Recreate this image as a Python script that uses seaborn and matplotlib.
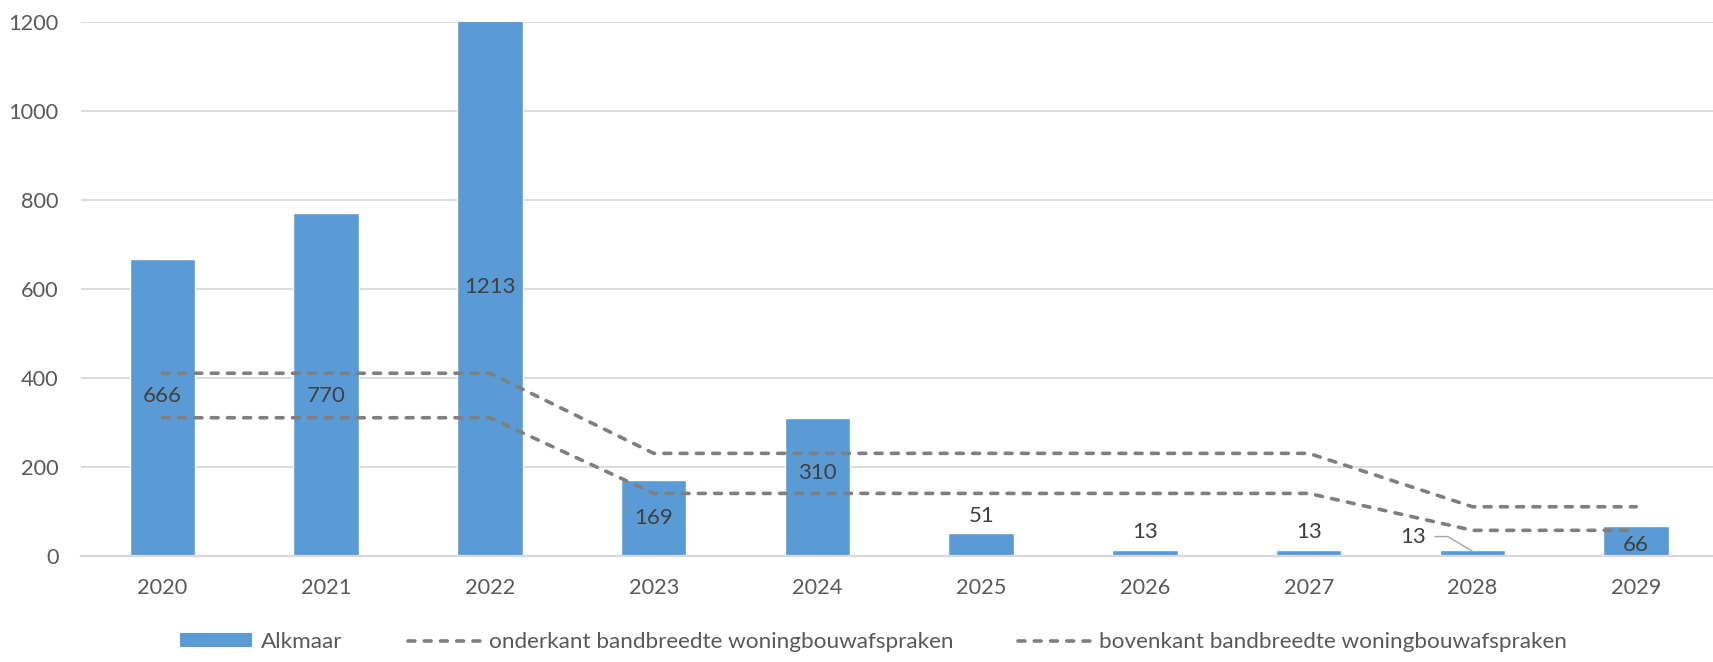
import numpy as np
import pandas as pd
import seaborn as sns
import matplotlib.pyplot as plt
from matplotlib.patches import Patch
from matplotlib.lines import Line2D

# data
years = ["2020", "2021", "2022", "2023", "2024", "2025", "2026", "2027", "2028", "2029"]
alkmaar = [666, 770, 1213, 169, 310, 51, 13, 13, 13, 66]
onderkant = [310, 310, 310, 140, 140, 140, 140, 140, 57, 57]
bovenkant = [410, 410, 410, 230, 230, 230, 230, 230, 110, 110]

# where the data labels sit (value units), as placed in the original
label_y = [360, 360, 603, 84, 185, 89, 54, 54, 43, 24]
label_dx = [0, 0, 0, 0, 0, 0, 0, 0, -0.36, 0]

BAR = "#5B9BD5"
LINE = "#7F7F7F"
GRID = "#D9D9D9"
TXT = "#595959"
LBL = "#404040"

sns.set_theme(style="white")
plt.rcParams["font.family"] = ["Lato", "DejaVu Sans"]

df = pd.DataFrame({"jaar": years, "Alkmaar": alkmaar})
lines = pd.DataFrame({
    "jaar": years * 2,
    "waarde": onderkant + bovenkant,
    "reeks": ["onderkant"] * len(years) + ["bovenkant"] * len(years),
})

fig = plt.figure(figsize=(17.13, 6.62), dpi=100)
ax = fig.add_axes([80.6 / 1713, 1 - 555.7 / 662, 1637.5 / 1713, 534 / 662])

sns.barplot(data=df, x="jaar", y="Alkmaar", color=BAR, width=0.4,
            saturation=1, ax=ax, zorder=2)

dash = (0, (1.9, 2.6))
for name in ["onderkant", "bovenkant"]:
    sub = lines[lines["reeks"] == name]
    ax.plot(np.arange(len(years)), sub["waarde"].values, color=LINE, lw=2.6,
            linestyle=dash, dash_capstyle="round", solid_joinstyle="round",
            zorder=3)

for i, v in enumerate(alkmaar):
    ax.text(i + label_dx[i], label_y[i], str(v), ha="center", va="center",
            fontsize=16, color=LBL, zorder=4)

# leader line for the 2028 label
ax.plot([7.77, 7.85, 8.0], [43, 43, 10], color="#A6A6A6", lw=1, zorder=4)

ax.set_xlim(-0.5, len(years) - 0.5)
ax.set_ylim(0, 1200)
ax.set_yticks(range(0, 1201, 200))
ax.yaxis.grid(True, color=GRID, lw=1.3, zorder=0)
ax.set_axisbelow(True)
for s in ["top", "right", "left"]:
    ax.spines[s].set_visible(False)
ax.spines["bottom"].set_color(GRID)
ax.spines["bottom"].set_linewidth(1.6)
ax.set_xlabel("")
ax.set_ylabel("")
ax.tick_params(axis="y", length=0, pad=16, labelsize=15.7, labelcolor=TXT)
ax.tick_params(axis="x", length=0, pad=16, labelsize=15.7, labelcolor=TXT)

handles = [
    Patch(facecolor=BAR, edgecolor="none"),
    Line2D([], [], color=LINE, lw=2.6, linestyle=dash, dash_capstyle="round"),
    Line2D([], [], color=LINE, lw=2.6, linestyle=dash, dash_capstyle="round"),
]
labels = ["Alkmaar", "onderkant bandbreedte woningbouwafspraken",
          "bovenkant bandbreedte woningbouwafspraken"]
leg = fig.legend(handles, labels, loc="center", bbox_to_anchor=(0.51, 0.03),
                 ncol=3, frameon=False, fontsize=16.2, handlelength=3.2,
                 handleheight=0.6, handletextpad=0.4, columnspacing=2.9)
for t in leg.get_texts():
    t.set_color(TXT)

fig.savefig("out.png", dpi=100)
